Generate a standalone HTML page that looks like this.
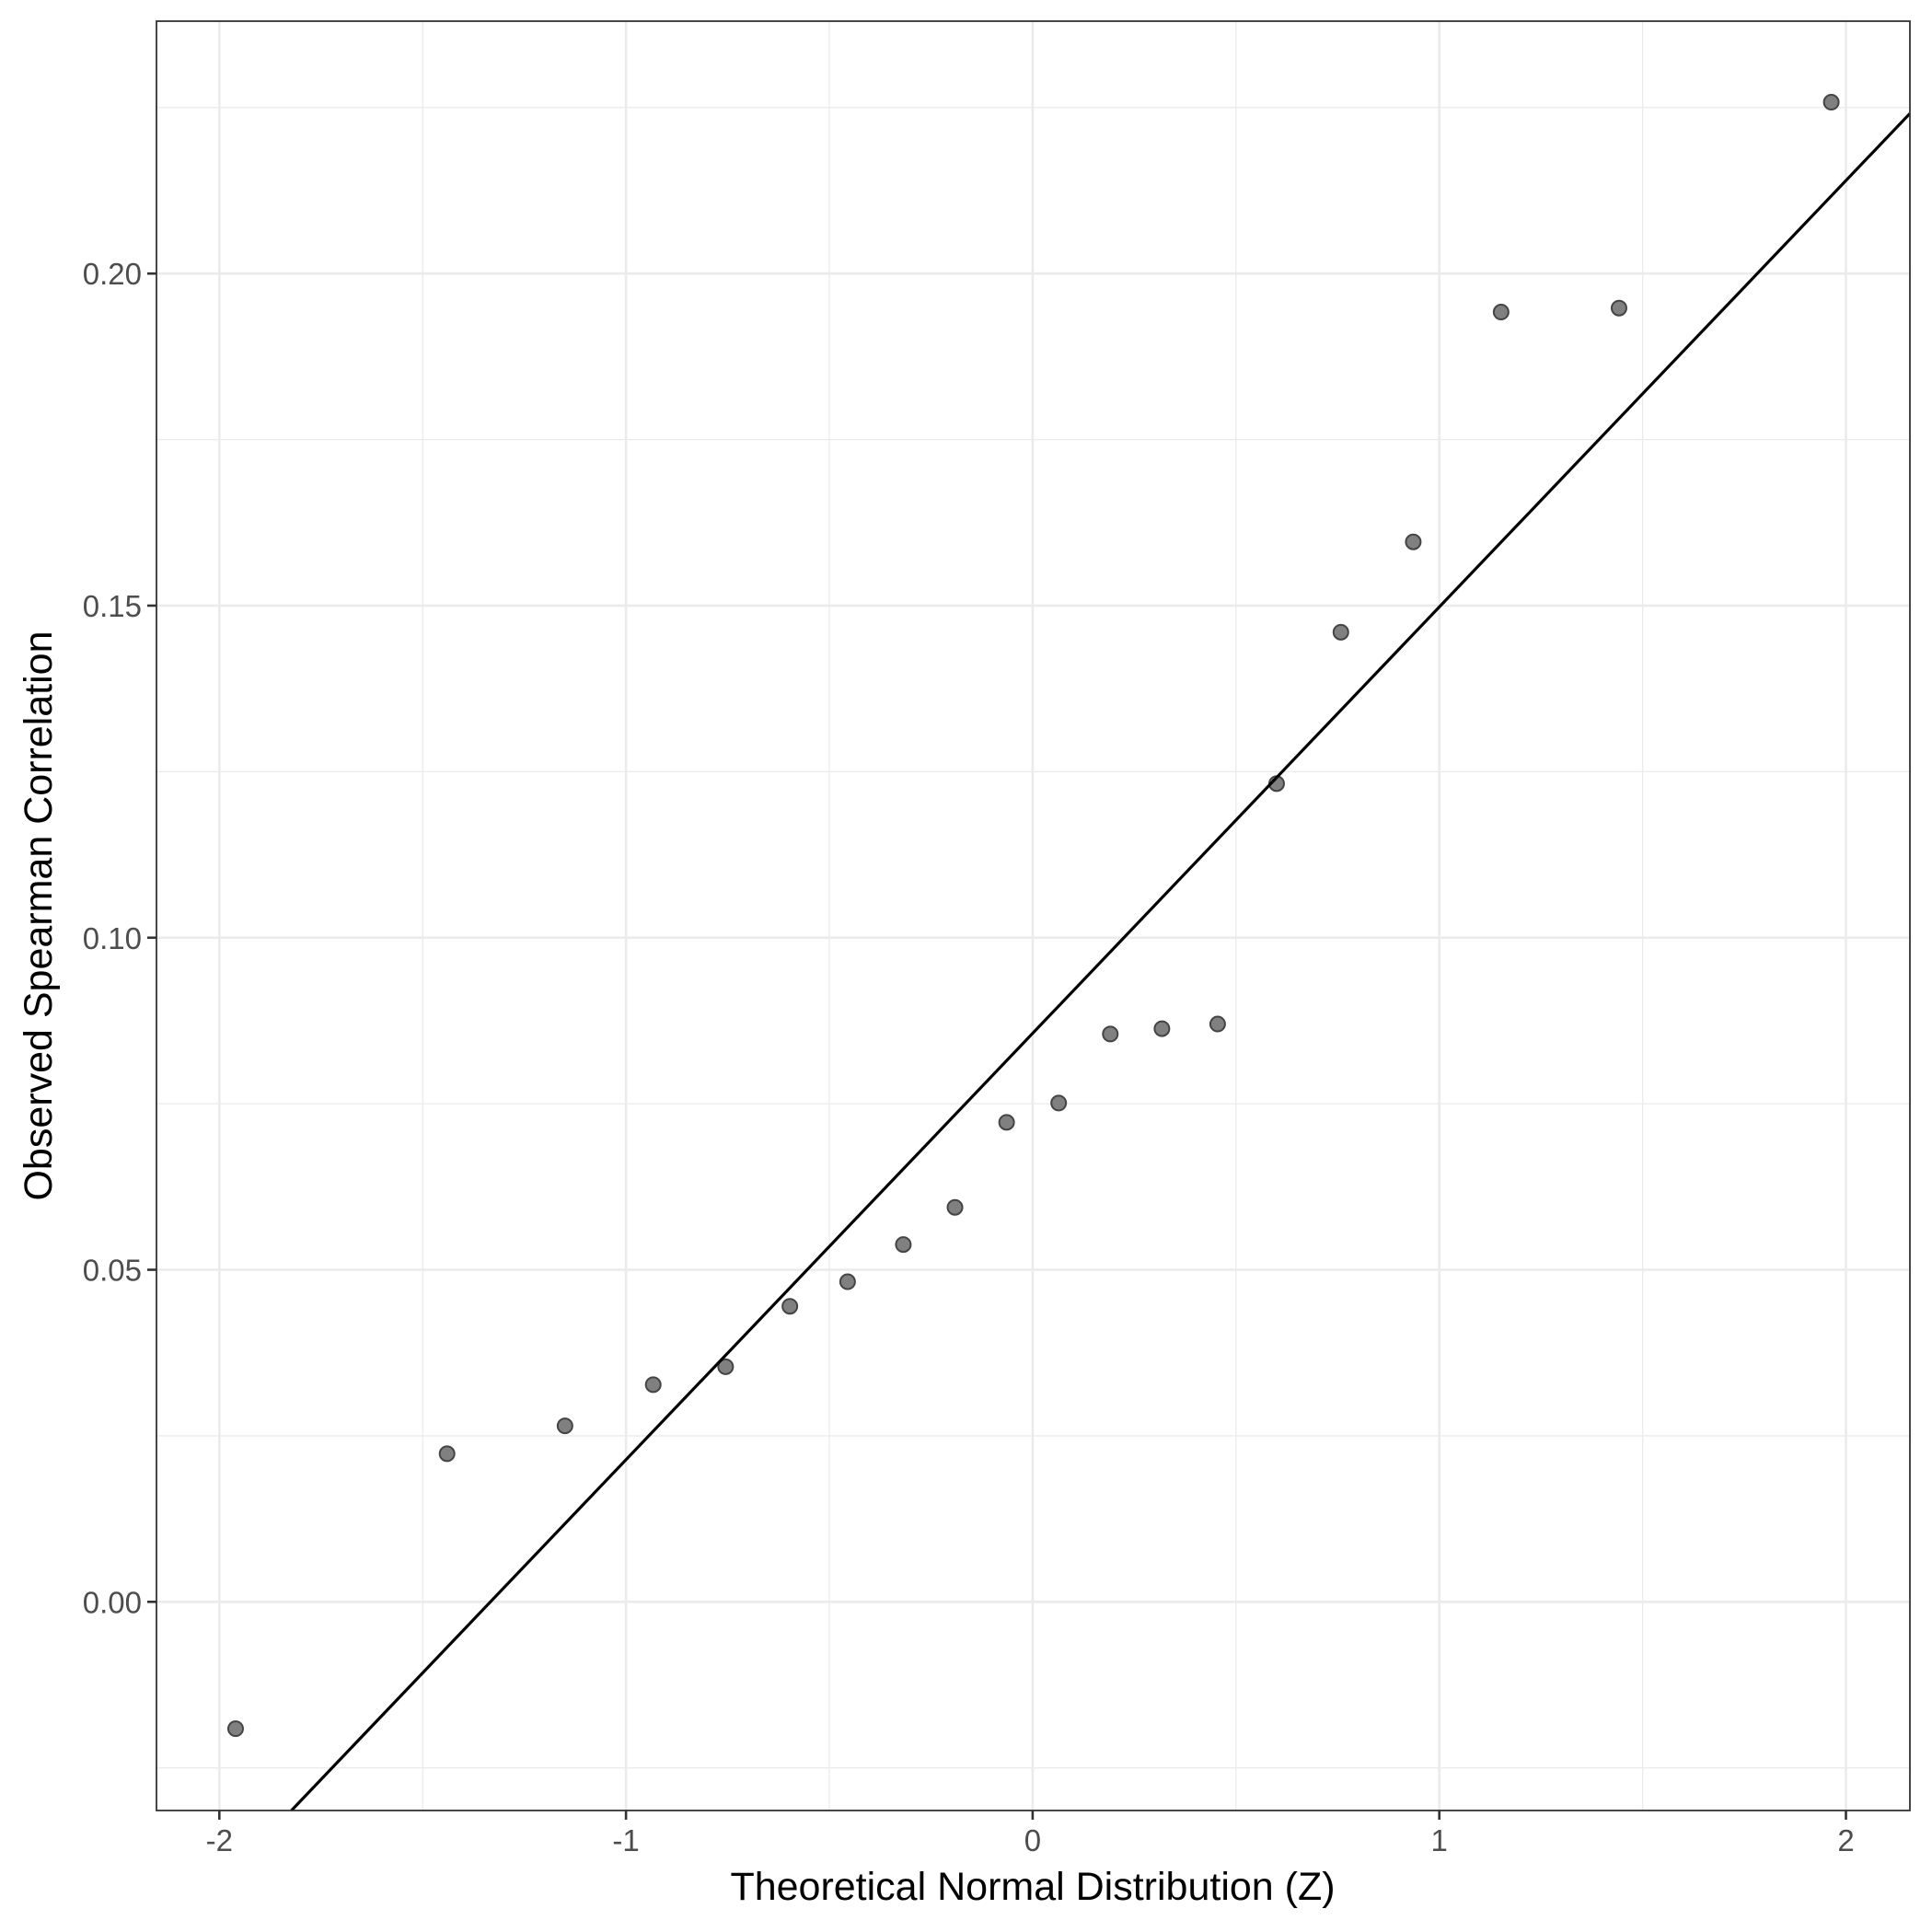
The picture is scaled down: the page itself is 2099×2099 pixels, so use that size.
<!DOCTYPE html>
<html><head><meta charset="utf-8"><style>
html,body{margin:0;padding:0;background:#fff;}
svg{display:block;font-family:"Liberation Sans",Arial,sans-serif;}
</style></head><body>
<svg id="chart" width="2099" height="2099" viewBox="0 0 2099 2099" xmlns="http://www.w3.org/2000/svg">
<g id="grid"></g>
<g id="marks"></g>
<rect x="170" y="23" width="1905" height="1944" fill="none" stroke="#333" stroke-width="1.8"/>
<g id="axes"></g>
<text x="1122" y="2064" font-size="43" text-anchor="middle" fill="#000">Theoretical Normal Distribution (Z)</text>
<text transform="translate(56,995) rotate(-90)" font-size="43" text-anchor="middle" fill="#000">Observed Spearman Correlation</text>
</svg>
<script>
const theoreticalZ=[-1.96,-1.44,-1.15,-0.933,-0.755,-0.597,-0.455,-0.318,-0.191,-0.064,0.064,0.191,0.318,0.455,0.6,0.758,0.936,1.152,1.442,1.964];
const observedCorr=[-0.0191,0.0223,0.0265,0.0327,0.0354,0.0445,0.0482,0.0538,0.0594,0.0722,0.0751,0.0855,0.0863,0.0870,0.1232,0.146,0.1596,0.1942,0.1948,0.2258];
const lineIntercept=0.0856;
const lineSlope=0.0642;
const xTicks=[-2,-1,0,1,2];
const xTickLabels=["-2","-1","0","1","2"];
const yTicks=[0,0.05,0.10,0.15,0.20];
const yTickLabels=["0.00","0.05","0.10","0.15","0.20"];
const xMinor=[-1.5,-0.5,0.5,1.5];
const yMinor=[-0.025,0.025,0.075,0.125,0.175,0.225];

const L=170,R=2075,T=23,B=1967;
const X0=1121.9,XU=441.8, Y0=1740.3,YU=7215.5;
const xs=v=>X0+v*XU, ys=v=>Y0-v*YU;
const NS="http://www.w3.org/2000/svg";
function mk(t,a,p){const e=document.createElementNS(NS,t);for(const k in a)e.setAttribute(k,a[k]);p.appendChild(e);return e;}
const grid=document.getElementById('grid'),marks=document.getElementById('marks'),axes=document.getElementById('axes');
mk('rect',{x:L,y:T,width:R-L,height:B-T,fill:'#fff'},grid);
xMinor.forEach(v=>{const e=mk('line',{x1:xs(v),x2:xs(v),y1:T,y2:B,stroke:'#ebebeb','stroke-width':1.3},grid);

});
yMinor.forEach(v=>{const e=mk('line',{x1:L,x2:R,y1:ys(v),y2:ys(v),stroke:'#ebebeb','stroke-width':1.3},grid);

});
xTicks.forEach((v,i)=>{const g=mk('line',{x1:xs(v),x2:xs(v),y1:T,y2:B,stroke:'#ebebeb','stroke-width':2.6},grid);


const t=mk('line',{x1:xs(v),x2:xs(v),y1:B,y2:B+10,stroke:'#333','stroke-width':2.6},axes);


const l=mk('text',{x:xs(v),y:B+44,'font-size':33,'text-anchor':'middle',fill:'#4d4d4d'},axes);
l.textContent=xTickLabels[i];

});
yTicks.forEach((v,i)=>{const g=mk('line',{x1:L,x2:R,y1:ys(v),y2:ys(v),stroke:'#ebebeb','stroke-width':2.6},grid);


const t=mk('line',{x1:L-10,x2:L,y1:ys(v),y2:ys(v),stroke:'#333','stroke-width':2.6},axes);


const l=mk('text',{x:L-16,y:ys(v)+12,'font-size':33,'text-anchor':'end',fill:'#4d4d4d'},axes);
l.textContent=yTickLabels[i];

});
theoreticalZ.forEach((z,i)=>{const c=mk('circle',{cx:xs(z),cy:ys(observedCorr[i]),r:8,fill:'#808080',stroke:'#444','stroke-width':2},marks);

});
const yLo=(Y0-B)/YU, yHi=(Y0-T)/YU;
const xa=(yLo-lineIntercept)/lineSlope, xb=(yHi-lineIntercept)/lineSlope;
const xlo=Math.max(xa,(L-X0)/XU), xhi=Math.min(xb,(R-X0)/XU);
const ln=mk('line',{x1:xs(xlo),y1:ys(lineIntercept+lineSlope*xlo),x2:xs(xhi),y2:ys(lineIntercept+lineSlope*xhi),stroke:'#000','stroke-width':3.2},marks);


</script>
</body></html>
